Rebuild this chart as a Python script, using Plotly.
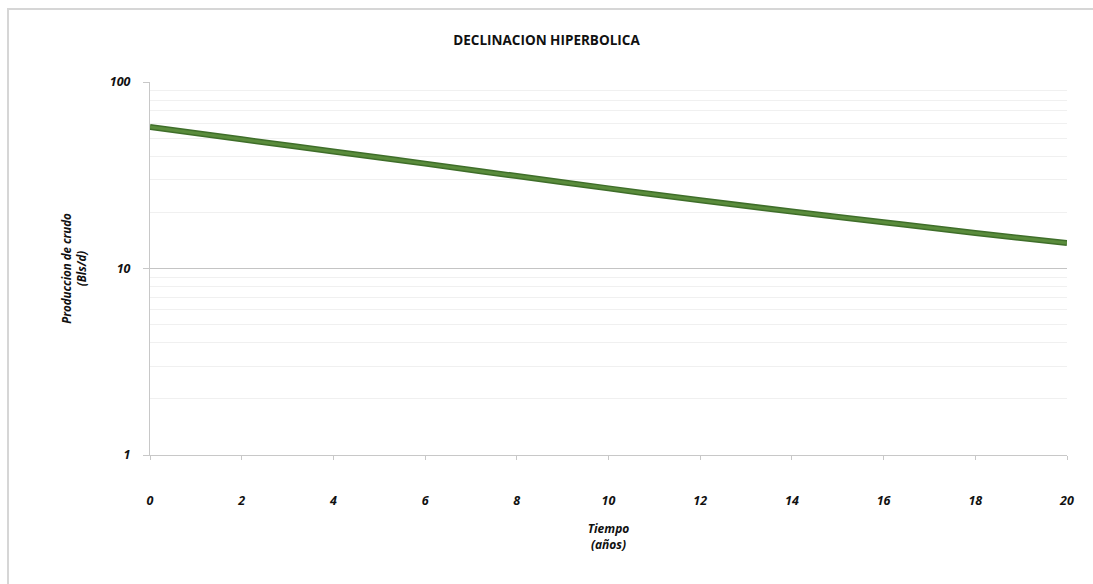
import plotly.graph_objects as go

# Hyperbolic decline: time (years) vs. oil rate (Bls/d)
tiempo = [0, 2, 4, 6, 8, 10, 12, 14, 16, 18, 20]
produccion = [57.4, 49.3, 42.4, 36.5, 31.3, 26.9, 23.2, 20.2, 17.7, 15.5, 13.7]

x_ticks = [0, 2, 4, 6, 8, 10, 12, 14, 16, 18, 20]
y_ticks = [1, 10, 100]
y_minor = [2, 3, 4, 5, 6, 7, 8, 9, 20, 30, 40, 50, 60, 70, 80, 90]

FONT = "Open Sans"

fig = go.Figure()
fig.add_trace(go.Scatter(
    x=tiempo, y=produccion, mode="lines",
    line=dict(color="#3f6e2a", width=6, shape="spline"),
    hoverinfo="skip", showlegend=False,
))
fig.add_trace(go.Scatter(
    x=tiempo, y=produccion, mode="lines",
    line=dict(color="#5a8c3c", width=3, shape="spline"),
    showlegend=False,
))

W, H = 1093, 584
L, R, T, B = 150, 26, 82, 129
pw, ph = W - L - R, H - T - B

def px(x):
    return (x - L) / pw

def py(y):
    return (H - B - y) / ph

# outer chart frame: only the left and top edges fall inside the page
frame_path = "M {x0},{y0} L {x0},{y1} L {x1},{y1}".format(
    x0=px(8), y0=py(H + 20), y1=py(9), x1=px(W + 20))

fig.update_layout(
    width=W, height=H,
    margin=dict(l=L, r=R, t=T, b=B),
    paper_bgcolor="white", plot_bgcolor="white",
    title=dict(
        text="<b>DECLINACION HIPERBOLICA</b>",
        x=0.5, xanchor="center", y=1 - 40 / H, yanchor="middle",
        font=dict(family=FONT, size=13.5, color="#111111"),
    ),
    xaxis=dict(
        range=[0, 20], tickvals=x_ticks, ticktext=[str(v) for v in x_ticks],
        showgrid=False, zeroline=False,
        showline=True, linecolor="#c8c8c8", linewidth=1,
        ticks="outside", ticklen=4, tickcolor="#c8c8c8",
        ticklabelstandoff=30,
        tickfont=dict(family=FONT, size=12.5, color="#111111", weight="bold", style="italic"),
        title=dict(
            text="<b><i>Tiempo<br>(años)</i></b>", standoff=16,
            font=dict(family=FONT, size=12, color="#111111"),
        ),
    ),
    yaxis=dict(
        type="log", range=[0, 2], tickvals=y_ticks, ticktext=["1", "10", "100"],
        showgrid=True, gridcolor="#c4c4c4", gridwidth=1, zeroline=False,
        showline=True, linecolor="#c8c8c8", linewidth=1,
        ticks="outside", ticklen=6, tickcolor="#c8c8c8",
        ticklabelstandoff=10,
        minor=dict(tickvals=y_minor, showgrid=True, gridcolor="#f0f0f0", gridwidth=1, ticks=""),
        tickfont=dict(family=FONT, size=12.5, color="#111111", weight="bold", style="italic"),
        title=dict(
            text="<b><i>Produccion de crudo<br>(Bls/d)</i></b>", standoff=20,
            font=dict(family=FONT, size=11.5, color="#111111"),
        ),
    ),
    shapes=[
        dict(type="path", xref="paper", yref="paper", path=frame_path,
             line=dict(color="#d6d6d6", width=2), layer="below"),
    ],
)

fig.write_html("out.html")
